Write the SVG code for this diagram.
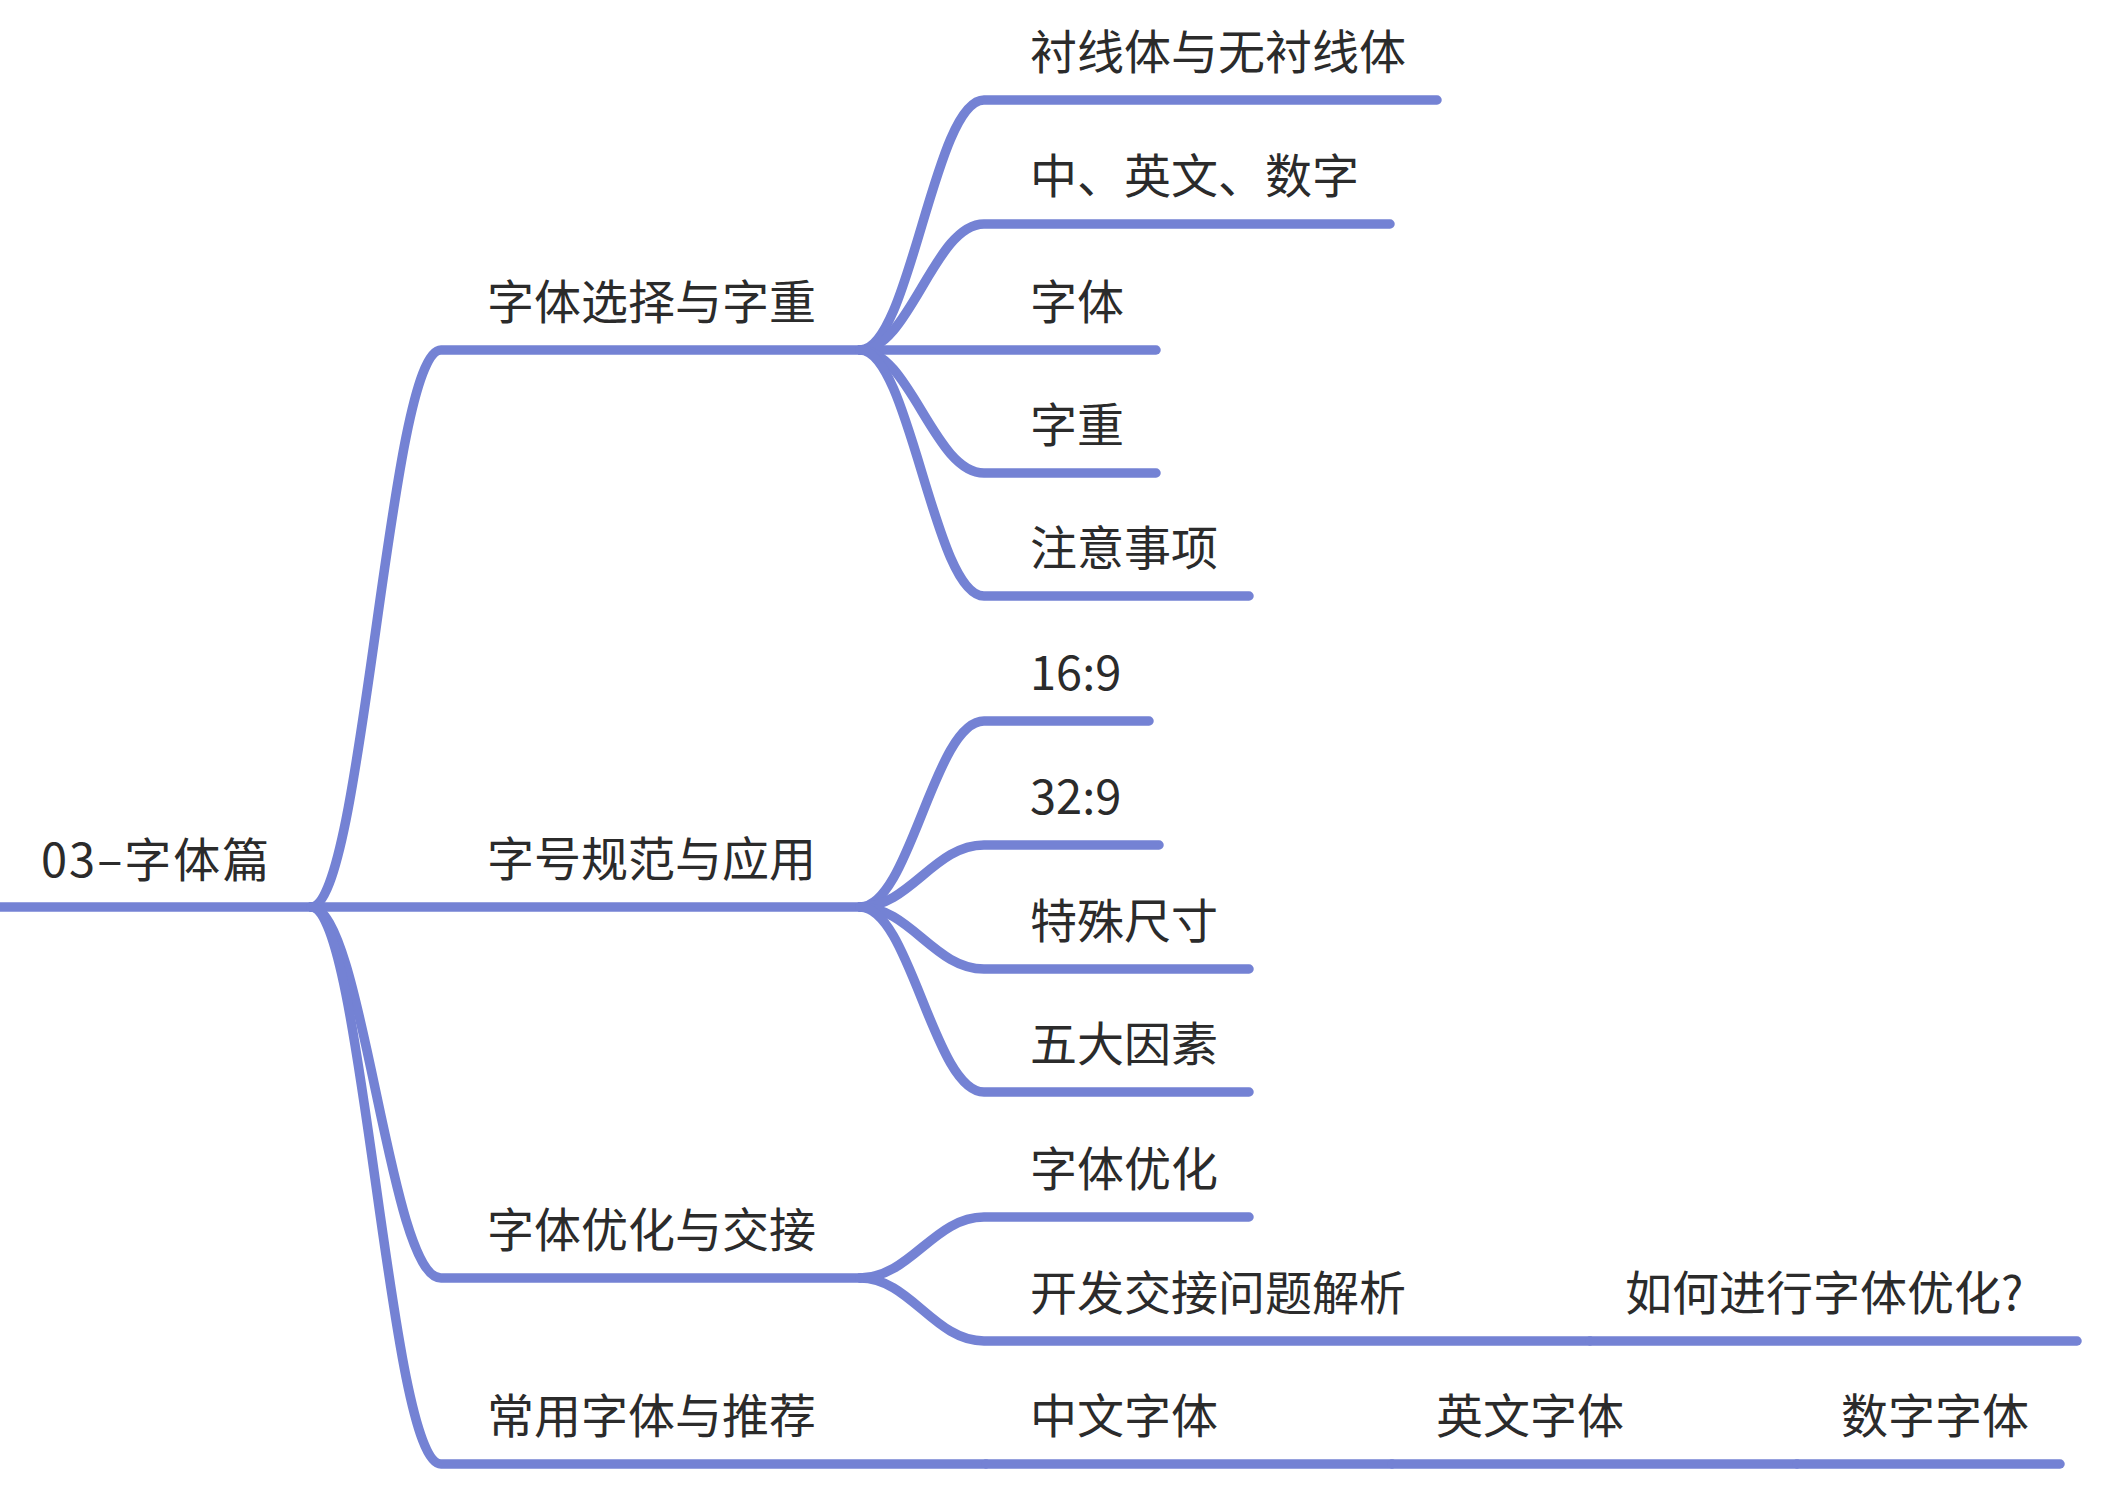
<svg xmlns="http://www.w3.org/2000/svg" width="2120" height="1502" viewBox="0 0 2120 1502">
<style>
.c{fill:none;stroke:#7482D4;stroke-width:9.5;stroke-linecap:round;stroke-linejoin:round}
.t{font-family:"Noto Sans CJK SC","Noto Sans",sans-serif;font-size:47px;fill:#2b2b2b}
</style>
<rect width="2120" height="1502" fill="#ffffff"/>
<g id="connectors">
<path class="c" d="M0 907 L311 907"/>
<path class="c" d="M311 907 C363 907 389 350 441 350 L860 350"/>
<path class="c" d="M311 907 L860 907"/>
<path class="c" d="M311 907 C363 907 389 1278 441 1278 L860 1278"/>
<path class="c" d="M311 907 C363 907 389 1464 441 1464 L986 1464"/>
<path class="c" d="M860 350 C910 350 934 100 984 100 L1437 100"/>
<path class="c" d="M860 350 C910 350 934 224 984 224 L1390 224"/>
<path class="c" d="M860 350 L1156 350"/>
<path class="c" d="M860 350 C910 350 934 473 984 473 L1156 473"/>
<path class="c" d="M860 350 C910 350 934 596 984 596 L1249 596"/>
<path class="c" d="M860 907 C910 907 934 721 984 721 L1149 721"/>
<path class="c" d="M860 907 C910 907 934 845 984 845 L1159 845"/>
<path class="c" d="M860 907 C910 907 934 969 984 969 L1249 969"/>
<path class="c" d="M860 907 C910 907 934 1092 984 1092 L1249 1092"/>
<path class="c" d="M860 1278 C910 1278 934 1217 984 1217 L1249 1217"/>
<path class="c" d="M860 1278 C910 1278 934 1341 984 1341 L1590 1341"/>
<path class="c" d="M1590 1341 L2077 1341"/>
<path class="c" d="M986 1464 L1392 1464"/>
<path class="c" d="M1392 1464 L1797 1464"/>
<path class="c" d="M1797 1464 L2060 1464"/>
</g>
<g id="root"><text class="t" x="41" y="877" letter-spacing="2">03–字体篇</text></g>
<g id="n1"><text class="t" x="487" y="319">字体选择与字重</text></g>
<g id="n2"><text class="t" x="487" y="876">字号规范与应用</text></g>
<g id="n3"><text class="t" x="487" y="1247">字体优化与交接</text></g>
<g id="n4"><text class="t" x="487" y="1433">常用字体与推荐</text></g>
<g id="n1-1"><text class="t" x="1030" y="69">衬线体与无衬线体</text></g>
<g id="n1-2"><text class="t" x="1030" y="193">中、英文、数字</text></g>
<g id="n1-3"><text class="t" x="1030" y="319">字体</text></g>
<g id="n1-4"><text class="t" x="1030" y="442">字重</text></g>
<g id="n1-5"><text class="t" x="1030" y="565">注意事项</text></g>
<g id="n2-1"><text class="t" x="1030" y="690">16:9</text></g>
<g id="n2-2"><text class="t" x="1030" y="814">32:9</text></g>
<g id="n2-3"><text class="t" x="1030" y="938">特殊尺寸</text></g>
<g id="n2-4"><text class="t" x="1030" y="1061">五大因素</text></g>
<g id="n3-1"><text class="t" x="1030" y="1186">字体优化</text></g>
<g id="n3-2"><text class="t" x="1030" y="1310">开发交接问题解析</text></g>
<g id="n3-2-1"><text class="t" x="1625" y="1310">如何进行字体优化?</text></g>
<g id="n4-1"><text class="t" x="1030" y="1433">中文字体</text></g>
<g id="n4-2"><text class="t" x="1436" y="1433">英文字体</text></g>
<g id="n4-3"><text class="t" x="1841" y="1433">数字字体</text></g>
</svg>
